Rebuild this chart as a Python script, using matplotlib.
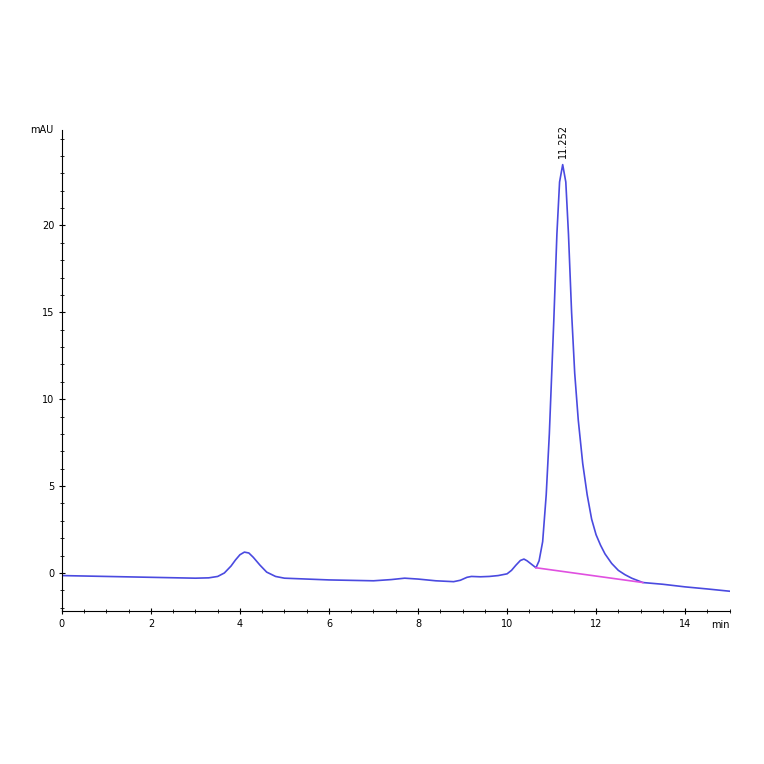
import numpy as np
import matplotlib.pyplot as plt
from matplotlib.ticker import MultipleLocator

# Chromatogram trace (min, mAU)
time_min = [0, 1, 2, 3, 3.3, 3.5, 3.65, 3.8, 3.9, 4.0, 4.1, 4.2, 4.3, 4.45, 4.6, 4.8, 5, 6, 7,
            7.4, 7.7, 8.0, 8.4, 8.8, 8.95, 9.1, 9.2, 9.4, 9.6, 9.8, 10.0, 10.1, 10.2, 10.3,
            10.38, 10.45, 10.55, 10.65, 10.72, 10.8, 10.88, 10.95, 11.05, 11.12, 11.18,
            11.25, 11.32, 11.38, 11.45, 11.52, 11.6, 11.7, 11.8, 11.9, 12.0, 12.1, 12.2,
            12.35, 12.5, 12.65, 12.8, 13.05, 13.5, 14, 14.5, 15]
signal = [-0.15, -0.2, -0.25, -0.3, -0.28, -0.2, 0.0, 0.4, 0.75, 1.05, 1.2, 1.15, 0.9, 0.45,
          0.05, -0.2, -0.3, -0.4, -0.45, -0.38, -0.3, -0.35, -0.45, -0.5, -0.42, -0.25, -0.2,
          -0.22, -0.2, -0.15, -0.05, 0.15, 0.45, 0.72, 0.8, 0.7, 0.5, 0.3, 0.7, 1.8, 4.5, 8,
          14.5, 19.5, 22.5, 23.5, 22.5, 19.5, 15, 11.5, 8.8, 6.3, 4.5, 3.1, 2.2, 1.6, 1.1,
          0.55, 0.15, -0.1, -0.3, -0.55, -0.65, -0.8, -0.92, -1.05]
baseline_t = [10.65, 13.05]
baseline_v = [0.3, -0.55]
peak_t = 11.252
peak_v = 23.5

fig = plt.figure(figsize=(7.64, 7.64), dpi=100)
ax = fig.add_axes([0.081, 0.2, 0.874, 0.63])
ax.plot(time_min, signal, color='#4a4ae0', lw=1.2)
ax.plot(baseline_t, baseline_v, color='#e050e0', lw=1.2)
ax.text(peak_t, peak_v + 0.4, f"{peak_t:.3f}", rotation=90, ha='center', va='bottom', fontsize=7)

ax.set_xlim(0, 15)
ax.set_ylim(-2.2, 25.5)
ax.xaxis.set_major_locator(MultipleLocator(2))
ax.xaxis.set_minor_locator(MultipleLocator(0.5))
ax.yaxis.set_major_locator(MultipleLocator(5))
ax.yaxis.set_minor_locator(MultipleLocator(1))
ax.set_yticks([0, 5, 10, 15, 20])
for s in ('top', 'right'):
    ax.spines[s].set_visible(False)
ax.tick_params(labelsize=7, length=4, direction='inout')
ax.tick_params(which='minor', length=3, direction='inout')
ax.set_xticks([0, 2, 4, 6, 8, 10, 12, 14])
ax.text(1.0, -0.018, "min", transform=ax.transAxes, fontsize=7, ha='right', va='top')
ax.text(-0.012, 1.0, "mAU", transform=ax.transAxes, fontsize=7, ha='right', va='center')
fig.savefig("out.png")
